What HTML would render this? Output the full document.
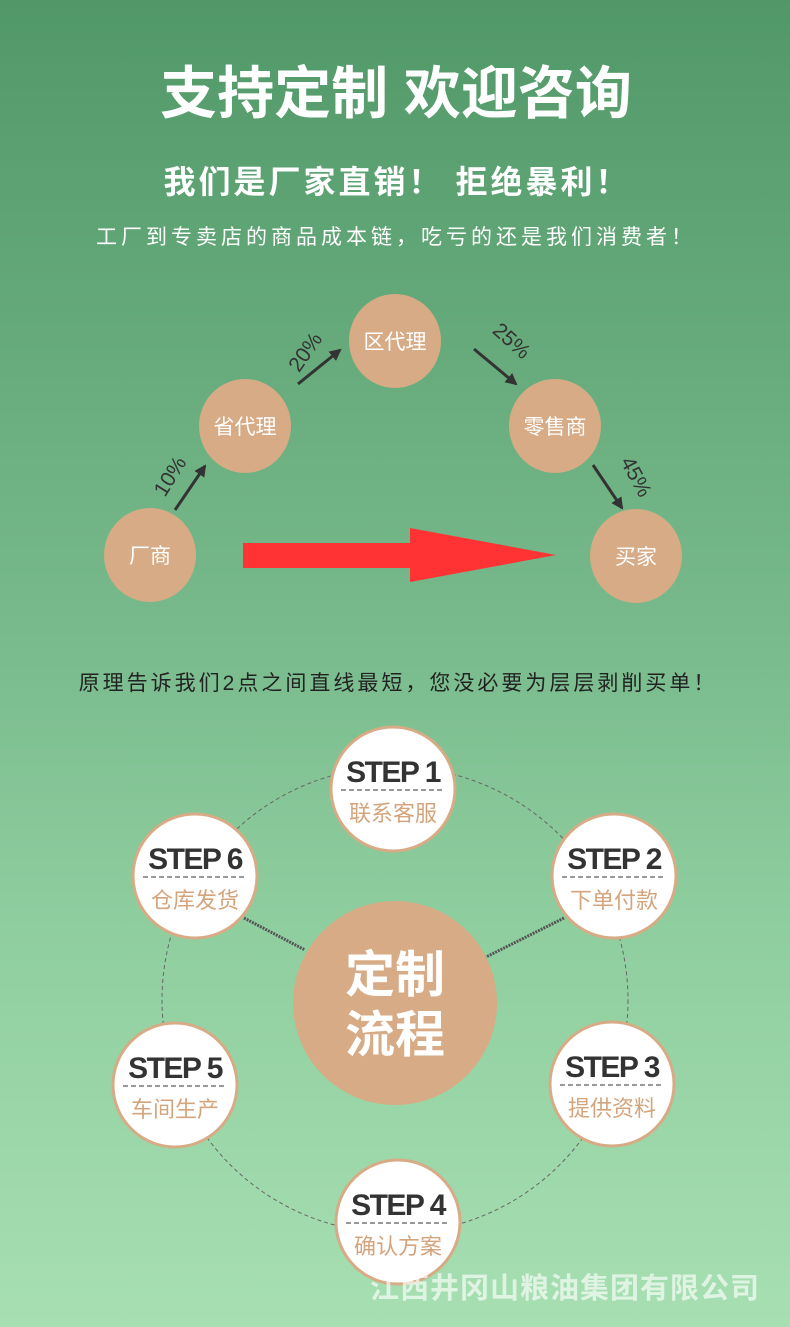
<!DOCTYPE html>
<html><head><meta charset="utf-8"><style>
html,body{margin:0;padding:0}
body{width:790px;height:1327px;overflow:hidden;background:linear-gradient(#519868 0%,#76b88a 45%,#8fce9f 70%,#a7dfb2 100%);font-family:"Liberation Sans","Noto Sans CJK SC",sans-serif}
</style></head><body>
<svg width="790" height="1327" xmlns="http://www.w3.org/2000/svg" style="position:absolute;left:0;top:0;font-family:'Liberation Sans','Noto Sans CJK SC',sans-serif">
<text x="396" y="113" text-anchor="middle" font-size="57" font-weight="bold" fill="#fff">支持定制 欢迎咨询</text>
<text x="397" y="193" text-anchor="middle" font-size="32" font-weight="bold" fill="#fff" letter-spacing="3">我们是厂家直销！  拒绝暴利！</text>
<text x="396" y="244" text-anchor="middle" font-size="21" fill="#fff" letter-spacing="4">工厂到专卖店的商品成本链，吃亏的还是我们消费者！</text>
<g fill="#d6ab85">
<ellipse cx="150" cy="555" rx="46" ry="47"/>
<ellipse cx="245" cy="426" rx="46" ry="47"/>
<ellipse cx="395" cy="341" rx="46" ry="47"/>
<ellipse cx="555" cy="426" rx="46" ry="47"/>
<ellipse cx="636" cy="556" rx="46" ry="47"/>
</g>
<g fill="#fff" font-size="21" text-anchor="middle">
<text x="150" y="563">厂商</text>
<text x="245" y="434">省代理</text>
<text x="395" y="349">区代理</text>
<text x="555" y="434">零售商</text>
<text x="636" y="564">买家</text>
</g>
<polygon points="243,543 410,543 410,528 556,555 410,582 410,568 243,568" fill="#ff3333"/>
<defs><marker id="a" markerWidth="12" markerHeight="12" refX="10" refY="6" orient="auto" markerUnits="userSpaceOnUse"><path d="M0,0 L12,6 L0,12z" fill="#333"/></marker></defs>
<g stroke="#333" stroke-width="3" marker-end="url(#a)">
<line x1="175" y1="510" x2="205" y2="466"/>
<line x1="298" y1="384" x2="340" y2="350"/>
<line x1="474" y1="349" x2="516" y2="384"/>
<line x1="593" y1="465" x2="622" y2="508"/>
</g>
<g fill="#333" font-size="21">
<text transform="translate(176,480) rotate(-58)" text-anchor="middle">10%</text>
<text transform="translate(311,356) rotate(-55)" text-anchor="middle">20%</text>
<text transform="translate(507,346) rotate(42)" text-anchor="middle">25%</text>
<text transform="translate(630,480) rotate(62)" text-anchor="middle">45%</text>
</g>
<text x="398" y="690" text-anchor="middle" font-size="21" fill="#222" letter-spacing="3">原理告诉我们2点之间直线最短，您没必要为层层剥削买单！</text>
<circle cx="395" cy="1000" r="233" fill="none" stroke="#666" stroke-width="1" stroke-dasharray="4,3"/>
<line x1="244" y1="918" x2="305" y2="950" stroke="#555" stroke-width="3" stroke-dasharray="2,1"/>
<line x1="564" y1="918" x2="484" y2="958" stroke="#555" stroke-width="3" stroke-dasharray="2,1"/>
<circle cx="395" cy="1003" r="102" fill="#d6ab85"/>
<text x="395" y="992" text-anchor="middle" font-size="50" font-weight="bold" fill="#fff">定制</text>
<text x="395" y="1052" text-anchor="middle" font-size="50" font-weight="bold" fill="#fff">流程</text>
<g>
<g transform="translate(393,789)"><circle r="62" fill="#fff" stroke="#d6ab85" stroke-width="3"/><text y="-7" text-anchor="middle" font-size="30" font-weight="bold" fill="#333" letter-spacing="-1.5">STEP 1</text><line x1="-52" x2="52" y1="1" y2="1" stroke="#777" stroke-width="1.5" stroke-dasharray="5,3"/><text y="32" text-anchor="middle" font-size="22" fill="#d4a47c">联系客服</text></g>
<g transform="translate(614,876)"><circle r="62" fill="#fff" stroke="#d6ab85" stroke-width="3"/><text y="-7" text-anchor="middle" font-size="30" font-weight="bold" fill="#333" letter-spacing="-1.5">STEP 2</text><line x1="-52" x2="52" y1="1" y2="1" stroke="#777" stroke-width="1.5" stroke-dasharray="5,3"/><text y="32" text-anchor="middle" font-size="22" fill="#d4a47c">下单付款</text></g>
<g transform="translate(612,1084)"><circle r="62" fill="#fff" stroke="#d6ab85" stroke-width="3"/><text y="-7" text-anchor="middle" font-size="30" font-weight="bold" fill="#333" letter-spacing="-1.5">STEP 3</text><line x1="-52" x2="52" y1="1" y2="1" stroke="#777" stroke-width="1.5" stroke-dasharray="5,3"/><text y="32" text-anchor="middle" font-size="22" fill="#d4a47c">提供资料</text></g>
<g transform="translate(398,1222)"><circle r="62" fill="#fff" stroke="#d6ab85" stroke-width="3"/><text y="-7" text-anchor="middle" font-size="30" font-weight="bold" fill="#333" letter-spacing="-1.5">STEP 4</text><line x1="-52" x2="52" y1="1" y2="1" stroke="#777" stroke-width="1.5" stroke-dasharray="5,3"/><text y="32" text-anchor="middle" font-size="22" fill="#d4a47c">确认方案</text></g>
<g transform="translate(175,1085)"><circle r="62" fill="#fff" stroke="#d6ab85" stroke-width="3"/><text y="-7" text-anchor="middle" font-size="30" font-weight="bold" fill="#333" letter-spacing="-1.5">STEP 5</text><line x1="-52" x2="52" y1="1" y2="1" stroke="#777" stroke-width="1.5" stroke-dasharray="5,3"/><text y="32" text-anchor="middle" font-size="22" fill="#d4a47c">车间生产</text></g>
<g transform="translate(195,876)"><circle r="62" fill="#fff" stroke="#d6ab85" stroke-width="3"/><text y="-7" text-anchor="middle" font-size="30" font-weight="bold" fill="#333" letter-spacing="-1.5">STEP 6</text><line x1="-52" x2="52" y1="1" y2="1" stroke="#777" stroke-width="1.5" stroke-dasharray="5,3"/><text y="32" text-anchor="middle" font-size="22" fill="#d4a47c">仓库发货</text></g>
</g>
<text x="565" y="1298" text-anchor="middle" font-size="29" font-weight="bold" fill="#fff" fill-opacity="0.65" letter-spacing="1">江西井冈山粮油集团有限公司</text>
</svg>
</body></html>
